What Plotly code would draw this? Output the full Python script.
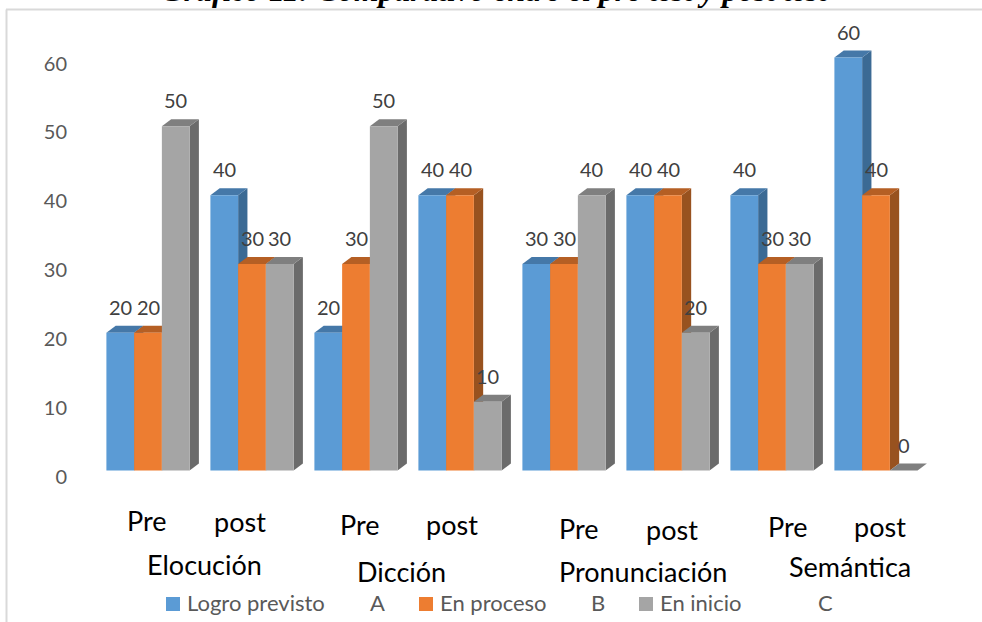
import plotly.graph_objects as go

title = "Gráfico 11: Comparativo entre el pre test y post test"
tests = ["Pre", "post", "Pre", "post", "Pre", "post", "Pre", "post"]
groups = ["Elocución", "Dicción", "Pronunciación", "Semántica"]
logro = [20, 40, 20, 40, 30, 40, 40, 60]
proceso = [20, 30, 30, 40, 30, 40, 30, 40]
inicio = [50, 30, 50, 10, 40, 20, 30, 0]
legend_names = ["Logro previsto", "En proceso", "En inicio"]
legend_letters = ["A", "B", "C"]
y_ticks = [0, 10, 20, 30, 40, 50, 60]

W, H = 982, 622
ML = 70
PX_GROUP = 104.0     # pixels between two pre/post columns
PX_UNIT = 6.883      # pixels per value unit
X0 = 148.0
Y0 = 470.5
BAR = 0.8 / 3
DX = 9.3 / PX_GROUP  # fake 3d depth
DY = 7.0 / PX_UNIT

series = [
    (logro, "#5B9BD5", "#3B6A94", "#4578A8"),
    (proceso, "#ED7D31", "#98521F", "#B55F24"),
    (inicio, "#A5A5A5", "#6B6B6B", "#7F7F7F"),
]

def paper_x(px):
    return (px - ML) / (W - ML)

def paper_y(py):
    return 1 - py / H

fig = go.Figure()
shapes = []
labels = []
xs = list(range(len(tests)))

for i, (vals, front, side, top) in enumerate(series):
    fig.add_trace(go.Bar(x=xs, y=vals, name=legend_names[i], marker_color=front,
                         marker_line_width=0, showlegend=False))

# side and top faces, left to right so nearer faces cover the ones behind
for g in xs:
    for i, (vals, front, side, top) in enumerate(series):
        v = vals[g]
        x1 = g - 0.4 + BAR * i
        x2 = x1 + BAR
        if v > 0:
            shapes.append(dict(type="path", layer="below", xref="x", yref="y", fillcolor=side,
                               line_width=0,
                               path=f"M{x2},0 L{x2 + DX},{DY} L{x2 + DX},{v + DY} L{x2},{v} Z"))
        shapes.append(dict(type="path", layer="below", xref="x", yref="y", fillcolor=top,
                           line_width=0,
                           path=f"M{x1},{v} L{x1 + DX},{v + DY} L{x2 + DX},{v + DY} L{x2},{v} Z"))
        labels.append(dict(x=(x1 + x2) / 2, y=v, xref="x", yref="y", text=str(v), showarrow=False,
                           xanchor="center", yanchor="middle", yshift=26,
                           font=dict(family="Lato", size=20, color="#404040")))

# text boxes pasted over the chart, each sits at its own place
test_pos = [(147, 520), (240, 521), (360, 524), (452, 524), (579, 528), (672, 529), (788, 526), (880, 526)]
group_pos = [(204, 564), (401, 571), (643, 571), (850, 566)]
for txt, (px, py) in zip(tests + groups, test_pos + group_pos):
    labels.append(dict(x=paper_x(px), y=paper_y(py), xref="paper", yref="paper", text=txt,
                       xanchor="center", yanchor="middle", showarrow=False,
                       font=dict(family="Lato", size=27, color="#000000")))

# legend
swatches = [166, 419, 639]
name_x = [186, 439, 659]
letter_x = [369, 590, 817]
for i in range(3):
    shapes.append(dict(type="rect", xref="paper", yref="paper", line_width=0, fillcolor=series[i][1],
                       x0=paper_x(swatches[i]), x1=paper_x(swatches[i] + 14),
                       y0=paper_y(611), y1=paper_y(597)))
    for txt, px in ((legend_names[i], name_x[i]), (legend_letters[i], letter_x[i])):
        labels.append(dict(x=paper_x(px), y=paper_y(602), xref="paper", yref="paper", text=txt,
                           xanchor="left", yanchor="middle", showarrow=False, xshift=-1,
                           font=dict(family="Lato", size=22, color="#595959")))

# chart frame and the title cut by the top of the page
shapes.append(dict(type="line", xref="paper", yref="paper", x0=paper_x(6.5), x1=paper_x(6.5),
                   y0=paper_y(H), y1=paper_y(9.5), line=dict(color="#D9D9D9", width=2)))
shapes.append(dict(type="line", xref="paper", yref="paper", x0=paper_x(6), x1=paper_x(W),
                   y0=paper_y(9.5), y1=paper_y(9.5), line=dict(color="#D9D9D9", width=2)))
labels.append(dict(x=paper_x(494), y=paper_y(10), xref="paper", yref="paper", text=f"<b><i>{title}</i></b>",
                   xanchor="center", yanchor="bottom", showarrow=False,
                   font=dict(family="Liberation Serif", size=31.6, color="#000000")))

fig.update_layout(
    width=W, height=H, margin=dict(l=ML, r=0, t=0, b=0),
    paper_bgcolor="white", plot_bgcolor="white",
    barmode="group", bargap=0.2, bargroupgap=0,
    shapes=shapes, annotations=labels,
    xaxis=dict(visible=False, range=[(ML - X0) / PX_GROUP, (W - X0) / PX_GROUP]),
    yaxis=dict(range=[(Y0 - H) / PX_UNIT, Y0 / PX_UNIT], tickvals=y_ticks, showgrid=False,
               zeroline=False, showline=False, ticks="", ticklabelshift=6, ticklabelstandoff=2,
               tickfont=dict(family="Lato", size=20, color="#595959")),
)

# the picture fills the whole window, so no page margin
fig.write_html("out.html", post_script="document.body.style.margin='0';",
               config={"displayModeBar": False})
